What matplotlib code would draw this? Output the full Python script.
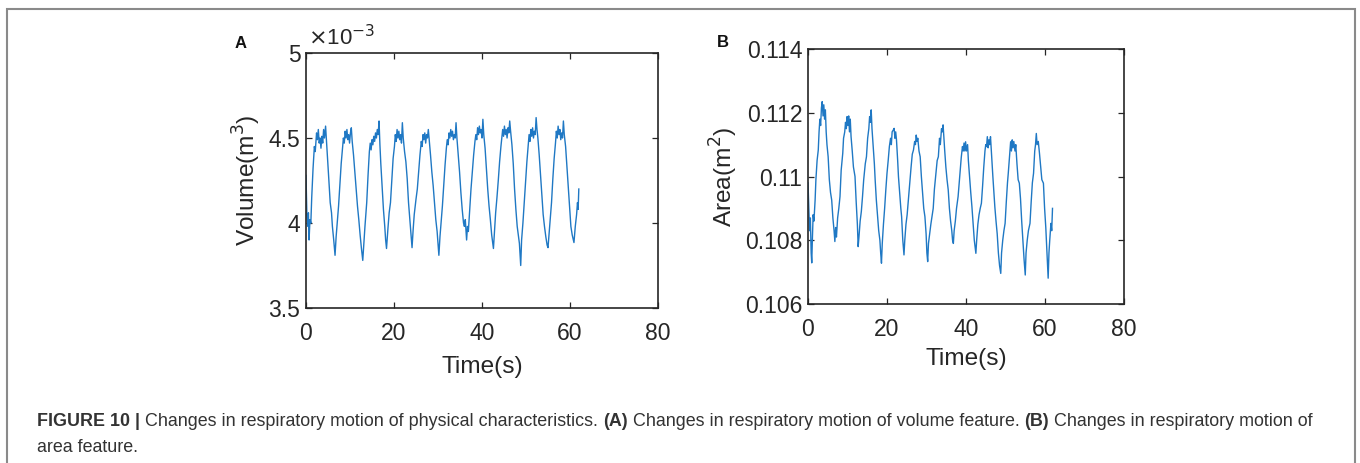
import matplotlib.pyplot as plt
from matplotlib.patches import Rectangle

plt.rcParams['font.family'] = ['Liberation Sans', 'DejaVu Sans']

# panel A: volume (x10^-3 m^3) vs time (s)
t_vol = [0.0, 0.2, 0.4, 0.55, 0.7, 0.9, 1.1, 1.3, 1.6, 1.9, 2.1, 2.4, 2.6, 2.8, 3.0, 3.2, 3.4, 3.6, 3.8, 4.0,
         4.2, 4.45, 4.7, 4.9, 5.2, 5.5, 5.8, 6.0, 6.3, 6.6,
         6.85, 7.1, 7.4, 7.7, 8.0, 8.3, 8.5, 8.7, 8.9, 9.1, 9.3, 9.5, 9.7, 9.9, 10.1, 10.3, 10.5, 10.8,
         11.1, 11.4, 11.7, 12.0, 12.3, 12.6, 12.9,
         13.1, 13.4, 13.8, 14.1, 14.4, 14.6, 14.8, 15.0, 15.2, 15.4, 15.6, 15.8, 16.0, 16.2, 16.4, 16.6,
         16.8, 17.0, 17.3, 17.6, 17.9, 18.1, 18.3,
         18.6, 18.9, 19.2, 19.5, 19.8, 20.1, 20.3, 20.5, 20.7, 20.9, 21.1, 21.3, 21.5, 21.7, 21.9, 22.1,
         22.4, 22.7, 23.0, 23.3, 23.6, 23.9, 24.1,
         24.35, 24.6, 25.0, 25.3, 25.6, 25.9, 26.2, 26.4, 26.6, 26.8, 27.0, 27.2, 27.4, 27.6, 27.8, 28.0,
         28.3, 28.6, 28.9, 29.2, 29.5, 29.8, 30.0, 30.2,
         30.45, 30.7, 31.0, 31.3, 31.6, 31.9, 32.1, 32.3, 32.5, 32.7, 32.9, 33.1, 33.3, 33.5, 33.7, 33.9,
         34.1, 34.3, 34.6, 34.9, 35.2, 35.5, 35.8, 36.0, 36.2, 36.5,
         36.7, 36.9, 37.2, 37.5, 37.8, 38.1, 38.4, 38.6, 38.8, 39.0, 39.2, 39.4, 39.6, 39.8, 40.0, 40.2,
         40.4, 40.7, 41.0, 41.3, 41.6, 41.9, 42.2, 42.6,
         42.85, 43.1, 43.4, 43.7, 44.0, 44.3, 44.5, 44.7, 44.9, 45.1, 45.3, 45.5, 45.7, 45.9, 46.1, 46.3,
         46.5, 46.8, 47.1, 47.4, 47.7, 48.0, 48.3, 48.5, 48.8,
         49.0, 49.3, 49.6, 49.9, 50.2, 50.5, 50.7, 50.9, 51.1, 51.3, 51.5, 51.7, 51.9, 52.1, 52.3, 52.5,
         52.7, 53.0, 53.3, 53.6, 53.9, 54.2, 54.5, 54.8, 55.0,
         55.2, 55.5, 55.8, 56.1, 56.4, 56.7, 56.9, 57.1, 57.3, 57.5, 57.7, 57.9, 58.1, 58.3, 58.5, 58.7,
         59.0, 59.3, 59.6, 59.9, 60.2, 60.5, 60.9,
         61.2, 61.5, 61.7, 61.85, 62.0]
volume = [4.28, 4.05, 3.98, 4.06, 3.90, 4.02, 4.00, 4.15, 4.32, 4.45, 4.42, 4.53, 4.49, 4.55, 4.47, 4.50, 4.44, 4.51, 4.47, 4.55,
          4.50, 4.57, 4.46, 4.38, 4.25, 4.12, 4.06, 3.98, 3.90, 3.81,
          3.92, 4.00, 4.10, 4.22, 4.35, 4.44, 4.50, 4.47, 4.54, 4.50, 4.55, 4.49, 4.52, 4.47, 4.53, 4.56, 4.48, 4.40,
          4.30, 4.20, 4.10, 4.02, 3.93, 3.85, 3.78,
          3.86, 3.98, 4.12, 4.28, 4.42, 4.47, 4.43, 4.49, 4.46, 4.51, 4.48, 4.53, 4.50, 4.55, 4.52, 4.60,
          4.46, 4.35, 4.22, 4.08, 3.98, 3.90, 3.85,
          3.96, 4.06, 4.12, 4.25, 4.38, 4.45, 4.52, 4.48, 4.55, 4.50, 4.54, 4.49, 4.52, 4.47, 4.59, 4.50,
          4.42, 4.36, 4.26, 4.12, 4.02, 3.92, 3.855,
          3.96, 4.05, 4.14, 4.20, 4.30, 4.40, 4.48, 4.45, 4.52, 4.49, 4.53, 4.47, 4.52, 4.50, 4.55, 4.49,
          4.40, 4.30, 4.22, 4.12, 4.02, 3.95, 3.88, 3.81,
          3.92, 4.00, 4.10, 4.22, 4.34, 4.44, 4.49, 4.46, 4.53, 4.50, 4.55, 4.51, 4.54, 4.49, 4.52, 4.50,
          4.59, 4.50, 4.40, 4.30, 4.18, 4.08, 4.00, 3.98, 4.02, 3.90,
          3.98, 3.95, 4.08, 4.20, 4.30, 4.40, 4.48, 4.52, 4.49, 4.56, 4.52, 4.57, 4.53, 4.55, 4.50, 4.61,
          4.52, 4.44, 4.32, 4.20, 4.10, 4.02, 3.93, 3.85,
          3.96, 4.06, 4.15, 4.25, 4.36, 4.45, 4.50, 4.55, 4.51, 4.57, 4.52, 4.55, 4.50, 4.56, 4.53, 4.60,
          4.54, 4.46, 4.35, 4.20, 4.08, 3.98, 3.92, 3.88, 3.75,
          3.90, 4.00, 4.12, 4.25, 4.36, 4.46, 4.52, 4.48, 4.55, 4.51, 4.56, 4.50, 4.54, 4.52, 4.62, 4.55,
          4.50, 4.40, 4.28, 4.15, 4.05, 3.98, 3.92, 3.87, 3.855,
          3.92, 4.02, 4.12, 4.26, 4.38, 4.47, 4.54, 4.50, 4.57, 4.52, 4.55, 4.49, 4.53, 4.50, 4.60, 4.52,
          4.45, 4.33, 4.20, 4.08, 3.98, 3.93, 3.885,
          3.98, 4.05, 4.12, 4.08, 4.20]

# panel B: area (m^2) vs time (s)
t_area = [0.0, 0.2, 0.4, 0.6, 0.8, 0.95, 1.1, 1.3, 1.5, 1.8, 2.0, 2.3, 2.6, 2.8, 3.0, 3.2, 3.4, 3.6, 3.8, 4.0,
          4.2, 4.4, 4.6, 4.8, 5.1, 5.4, 5.7, 6.0, 6.3, 6.6, 6.8,
          7.0, 7.2, 7.5, 7.8, 8.1, 8.4, 8.8, 9.0, 9.3, 9.5, 9.7, 9.9, 10.1, 10.3, 10.5, 10.7, 10.9,
          11.2, 11.5, 11.9, 12.2, 12.5, 12.7,
          12.9, 13.2, 13.5, 13.8, 14.1, 14.5, 14.8, 15.1, 15.4, 15.6, 15.8, 16.0, 16.2, 16.5, 16.8, 17.0,
          17.3, 17.6, 17.9, 18.2, 18.4, 18.6,
          18.8, 19.1, 19.4, 19.7, 20.0, 20.3, 20.6, 20.9, 21.1, 21.3, 21.6, 21.8, 22.0, 22.2, 22.4, 22.7,
          22.9, 23.2, 23.5, 23.7, 24.0, 24.3,
          24.5, 24.8, 25.1, 25.4, 25.8, 26.1, 26.4, 26.7, 27.0, 27.2, 27.4, 27.6, 27.8, 28.1, 28.4, 28.7,
          29.0, 29.3, 29.6, 29.9, 30.1, 30.3,
          30.5, 30.8, 31.1, 31.4, 31.7, 32.0, 32.4, 32.7, 33.0, 33.3, 33.5, 33.8, 34.0, 34.2, 34.4, 34.6,
          34.9, 35.2, 35.5, 35.8, 36.1, 36.4, 36.6, 36.8,
          37.0, 37.3, 37.6, 38.0, 38.4, 38.8, 39.1, 39.3, 39.5, 39.7, 39.9, 40.1, 40.4, 40.6, 40.9, 41.2,
          41.5, 41.8, 42.1, 42.3, 42.5,
          42.7, 43.0, 43.3, 43.6, 43.9, 44.2, 44.5, 44.8, 45.0, 45.2, 45.4, 45.6, 45.8, 46.0, 46.2, 46.5,
          46.8, 47.0, 47.3, 47.6, 47.9, 48.2, 48.5, 48.8,
          49.0, 49.3, 49.6, 49.9, 50.2, 50.5, 50.7, 51.0, 51.3, 51.5, 51.7, 51.9, 52.1, 52.4, 52.6, 52.9,
          53.2, 53.5, 53.8, 54.1, 54.4, 54.7, 55.0,
          55.2, 55.5, 55.8, 56.2, 56.5, 56.8, 57.1, 57.4, 57.6, 57.8, 58.0, 58.3, 58.6, 58.9, 59.2, 59.6,
          59.9, 60.2, 60.5, 60.8,
          61.0, 61.2, 61.5, 61.7, 61.9]
area = [0.10980, 0.10900, 0.10830, 0.10870, 0.10760, 0.10729, 0.10800, 0.10880, 0.10860, 0.10926, 0.10990,
        0.11050, 0.11083, 0.11140, 0.11180, 0.11160, 0.11215, 0.11235, 0.11190, 0.11225,
        0.11180, 0.11209, 0.11140, 0.11100, 0.11062, 0.10990, 0.10950, 0.10926, 0.10870, 0.10830, 0.10796,
        0.10840, 0.10810, 0.10870, 0.10900, 0.10937, 0.11020, 0.11073, 0.11120, 0.11140, 0.11170, 0.11150,
        0.11188, 0.11160, 0.11190, 0.11140, 0.11180, 0.11125,
        0.11080, 0.11030, 0.11000, 0.10920, 0.10850, 0.10780,
        0.10810, 0.10860, 0.10890, 0.10937, 0.10990, 0.11040, 0.11062, 0.11120, 0.11150, 0.11188, 0.11170,
        0.11209, 0.11150, 0.11094, 0.11040, 0.10990,
        0.10926, 0.10880, 0.10830, 0.10800, 0.10760, 0.10728,
        0.10790, 0.10850, 0.10900, 0.10958, 0.11010, 0.11050, 0.11094, 0.11120, 0.11100, 0.11140, 0.11146,
        0.11151, 0.11120, 0.11140, 0.11115, 0.11050,
        0.11000, 0.10950, 0.10900, 0.10874, 0.10800, 0.10754,
        0.10800, 0.10850, 0.10880, 0.10926, 0.10990, 0.11030, 0.11070, 0.11083, 0.11110, 0.11100, 0.11130,
        0.11110, 0.11120, 0.11080, 0.11062, 0.11000,
        0.10950, 0.10900, 0.10874, 0.10820, 0.10760, 0.10733,
        0.10790, 0.10820, 0.10850, 0.10874, 0.10900, 0.10960, 0.11010, 0.11050, 0.11062, 0.11120, 0.11100,
        0.11150, 0.11140, 0.11162, 0.11120, 0.11083,
        0.11030, 0.10990, 0.10958, 0.10900, 0.10860, 0.10830, 0.10800, 0.10790,
        0.10830, 0.10860, 0.10900, 0.10937, 0.11000, 0.11060, 0.11094, 0.11080, 0.11105, 0.11080, 0.11109,
        0.11080, 0.11100, 0.11050, 0.11000, 0.10950,
        0.10905, 0.10850, 0.10800, 0.10780, 0.10759,
        0.10800, 0.10850, 0.10880, 0.10900, 0.10916, 0.10970, 0.11030, 0.11080, 0.11100, 0.11094, 0.11125,
        0.11090, 0.11115, 0.11100, 0.11125, 0.11060,
        0.11000, 0.10960, 0.10905, 0.10860, 0.10820, 0.10760, 0.10720, 0.10696,
        0.10760, 0.10800, 0.10830, 0.10853, 0.10920, 0.10980, 0.11010, 0.11060, 0.11109, 0.11080, 0.11115,
        0.11090, 0.11110, 0.11080, 0.11100, 0.11040,
        0.10990, 0.10979, 0.10930, 0.10860, 0.10800, 0.10740, 0.10691,
        0.10760, 0.10800, 0.10830, 0.10853, 0.10920, 0.10980, 0.11010, 0.11080, 0.11100, 0.11135, 0.11100,
        0.11110, 0.11073, 0.11030, 0.10990, 0.10979,
        0.10900, 0.10840, 0.10760, 0.10681,
        0.10760, 0.10800, 0.10853, 0.10830, 0.10900]

x_ticks = [0, 20, 40, 60, 80]
vol_ticks = [3.5, 4, 4.5, 5]
vol_labels = ['3.5', '4', '4.5', '5']
area_ticks = [0.106, 0.108, 0.110, 0.112, 0.114]
area_labels = ['0.106', '0.108', '0.11', '0.112', '0.114']

LINE = '#1f78c4'
AX = '#262626'

fig = plt.figure(figsize=(13.6, 4.63), dpi=100)

# outer frame round the whole figure
fig.patches.append(Rectangle((7 / 1360, -0.1), 1348 / 1360, 1.1 - 9 / 463, transform=fig.transFigure,
                             fill=False, edgecolor='#8a8a8a', linewidth=1.5))


def style(ax):
    ax.tick_params(direction='in', top=True, right=True, length=4, width=0.9, colors=AX,
                   labelsize=16.5)
    ax.tick_params(axis='x', pad=10)
    ax.tick_params(axis='y', pad=4)
    for s in ax.spines.values():
        s.set_color(AX)
        s.set_linewidth(1.2)


ax1 = fig.add_axes([306 / 1360, 1 - 308 / 463, 352 / 1360, 255 / 463])
ax1.plot(t_vol, volume, color=LINE, lw=1.0)
ax1.set_xlim(0, 80)
ax1.set_ylim(3.5, 5)
ax1.set_xticks(x_ticks)
ax1.set_yticks(vol_ticks)
ax1.set_yticklabels(vol_labels)
style(ax1)
ax1.set_xlabel('Time(s)', fontsize=17.6, color=AX, labelpad=8)
ax1.set_ylabel('Volume(m$^3$)', fontsize=17.6, color=AX, labelpad=4)
ax1.text(0.005, 1.01, r'$\times$10$^{-3}$', transform=ax1.transAxes, fontsize=16, color=AX,
         ha='left', va='bottom')
fig.text(235 / 1360, 1 - 48 / 463, 'A', fontsize=12, fontweight='bold', color='#111111')

ax2 = fig.add_axes([808 / 1360, 1 - 304 / 463, 316 / 1360, 255 / 463])
ax2.plot(t_area, area, color=LINE, lw=1.0)
ax2.set_xlim(0, 80)
ax2.set_ylim(0.106, 0.114)
ax2.set_xticks(x_ticks)
ax2.set_yticks(area_ticks)
ax2.set_yticklabels(area_labels)
style(ax2)
ax2.set_xlabel('Time(s)', fontsize=17.6, color=AX, labelpad=5)
ax2.set_ylabel('Area(m$^2$)', fontsize=17.6, color=AX, labelpad=4)
fig.text(717 / 1360, 1 - 47 / 463, 'B', fontsize=12, fontweight='bold', color='#111111')

# caption, pieces chained left to right
pieces = [('FIGURE 10 | ', 'bold'),
          ('Changes in respiratory motion of physical characteristics. ', 'normal'),
          ('(A)', 'bold'),
          (' Changes in respiratory motion of volume feature. ', 'normal'),
          ('(B)', 'bold'),
          (' Changes in respiratory motion of', 'normal')]
renderer = fig.canvas.get_renderer()
x = 37 / 1360
for txt, w in pieces:
    t = fig.text(x, 1 - 421 / 463, txt, fontsize=12.85, fontweight=w, color='#333333',
                 va='center', ha='left')
    bb = t.get_window_extent(renderer)
    x = bb.x1 / fig.bbox.width
fig.text(37 / 1360, 1 - 447 / 463, 'area feature.', fontsize=12.85, color='#333333',
         va='center', ha='left')

fig.savefig('out.png', dpi=100)
